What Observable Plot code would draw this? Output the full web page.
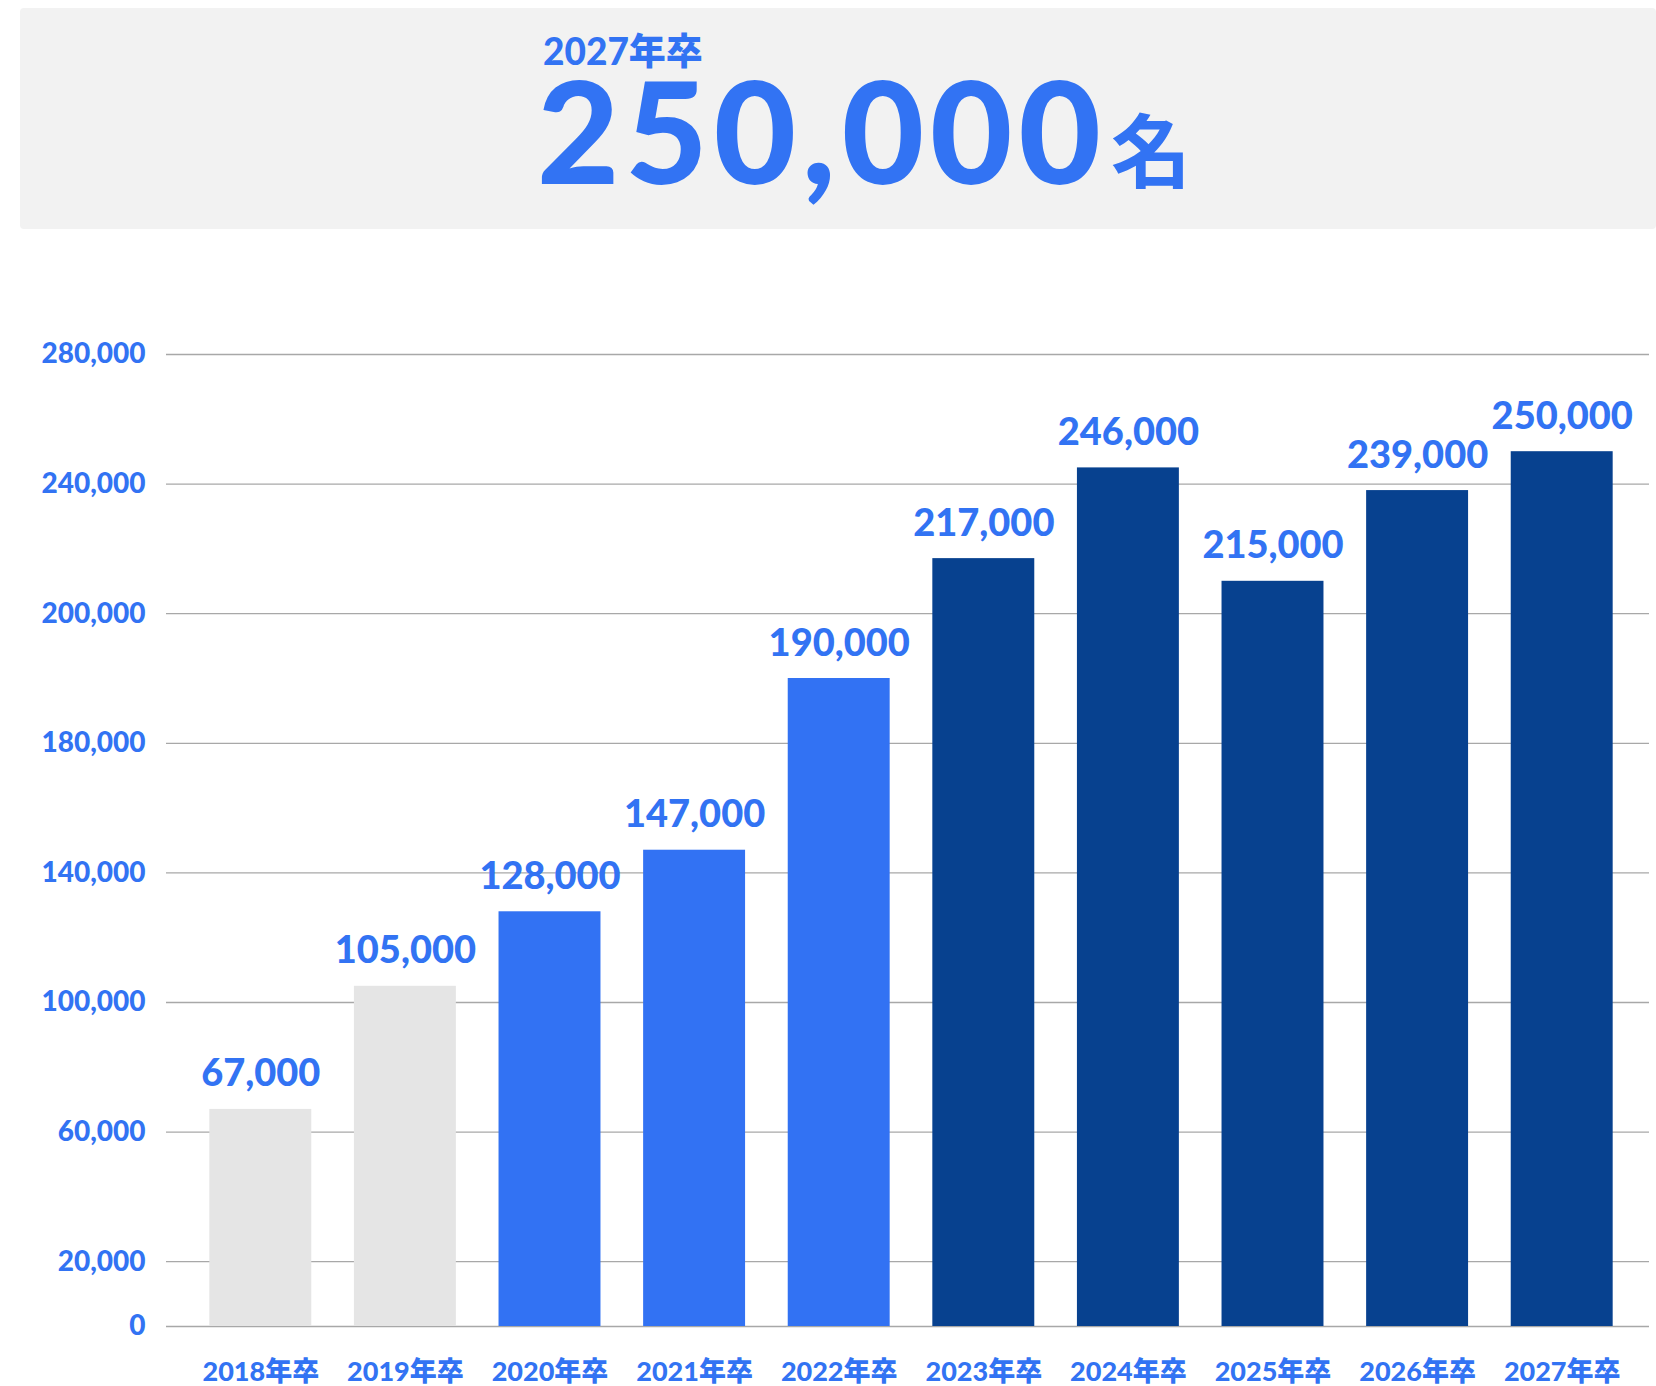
<!DOCTYPE html>
<html>
<head>
<meta charset="utf-8">
<script src="https://cdn.jsdelivr.net/npm/d3@7"></script>
<script src="https://cdn.jsdelivr.net/npm/@observablehq/plot@0.6"></script>
<style>
  html, body { margin: 0; padding: 0; background: #ffffff; }
  body { position: relative; width: 1656px; height: 1386px; overflow: hidden; font-family: Lato, "Noto Sans CJK JP", sans-serif; }
  #head { position: absolute; left: 20px; top: 8px; width: 1636px; height: 221px; background: #f2f2f2; border-radius: 4px; }
  .t { position: absolute; color: #3273f3; white-space: nowrap; line-height: 1; }
  #sub { left: 543px; top: 32px; font-size: 37px; font-weight: 900; font-family: Lato, "Noto Sans CJK JP", sans-serif; }
  #big { left: 537px; top: 73px; font-size: 142px; line-height: 0.8; font-weight: 900; letter-spacing: 6px; font-family: Lato, sans-serif; }
  #unit { left: 1111px; top: 106px; font-size: 80px; font-weight: 700; font-family: "Noto Sans CJK JP", sans-serif; }
  #chart { position: absolute; left: 0; top: 240px; }
</style>
</head>
<body>
<div id="head"></div>
<div class="t" id="sub"></div>
<div class="t" id="big"></div>
<div class="t" id="unit">名</div>
<div id="chart"></div>
<script>
// ---- data ----
const categories = ["2018年卒", "2019年卒", "2020年卒", "2021年卒", "2022年卒", "2023年卒", "2024年卒", "2025年卒", "2026年卒", "2027年卒"];
const values = [67000, 105000, 128000, 147000, 190000, 217000, 246000, 215000, 239000, 250000];      // printed labels
const barValues = [67000, 105000, 128000, 147000, 190000, 217000, 245000, 210000, 238000, 250000];   // bar heights as drawn
const groups = ["past", "past", "growth", "growth", "growth", "peak", "peak", "peak", "peak", "peak"];
const yTicks = [0, 20000, 60000, 100000, 140000, 180000, 200000, 240000, 280000];
const yBreaks = [0, 180000, 200000, 280000];
const groupNames = ["past", "growth", "peak"];
const groupColors = ["#e5e5e5", "#3272f3", "#07418f"];

const blue = "#3273f3";
const fmt = d3.format(",");

document.getElementById("sub").textContent = categories[categories.length - 1];
document.getElementById("big").textContent = fmt(values[values.length - 1]);

const data = categories.map((c, i) => ({category: c, value: values[i], bar: barValues[i], group: groups[i]}));

const width = 1656, height = 1146, marginTop = 114, marginBottom = 60;
const yBottom = height - marginBottom;
// piecewise axis: segment lengths in grid steps (0-180k: 4.5 steps, 180k-200k: 1 step, 200k-280k: 2 steps)
const stepUnits = [0, 4.5, 5.5, 7.5];
const unit = (yBottom - marginTop) / stepUnits[stepUnits.length - 1];
const yRange = stepUnits.map(u => yBottom - u * unit);

const chart = Plot.plot({
  width, height, marginTop, marginBottom, marginLeft: 166, marginRight: 7,
  style: {fontFamily: "Lato, 'Noto Sans CJK JP', sans-serif", background: "transparent", overflow: "visible"},
  x: {domain: categories, paddingInner: 0.295, paddingOuter: 0.1475, insetLeft: 22, insetRight: 15, round: false, label: null},
  y: {type: "linear", domain: yBreaks, range: yRange, label: null},
  color: {domain: groupNames, range: groupColors},
  marks: [
    Plot.ruleY(yTicks, {stroke: "#a8a8a8", strokeWidth: 1.3}),
    Plot.barY(data, {x: "category", y: "bar", fill: "group"}),
    Plot.text(data, {x: "category", y: "bar", text: d => fmt(d.value), lineAnchor: "bottom", dy: -23, fontSize: 38, fontWeight: 900, fill: blue}),
    Plot.axisY({ticks: yTicks, tickSize: 0, tickPadding: 21, tickFormat: fmt, fontSize: 28, fontWeight: 900, color: blue, label: null}),
    Plot.axisX({tickSize: 0, tickPadding: 35, fontSize: 27, fontWeight: 900, color: blue, label: null})
  ]
});
document.getElementById("chart").appendChild(chart);
</script>
</body>
</html>
